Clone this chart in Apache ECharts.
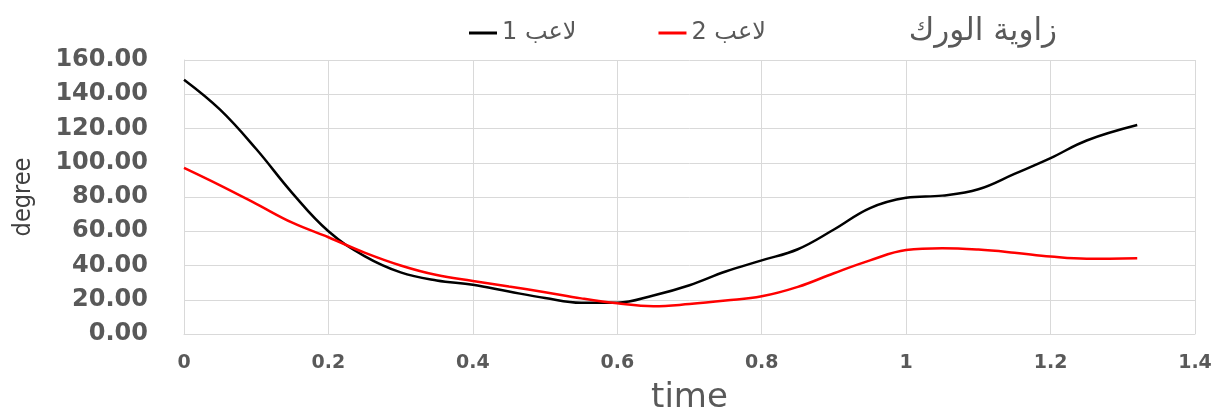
<!DOCTYPE html>
<html>
<head>
<meta charset="utf-8">
<script src="https://cdn.jsdelivr.net/npm/echarts@6.0.0/dist/echarts.min.js"></script>
<style>
  html, body { margin: 0; padding: 0; background: #fff; }
  #chart { width: 1220px; height: 410px; }
</style>
</head>
<body>
<div id="chart"></div>
<script>
// time (s) sampled along the curves
const times = [0, 0.05, 0.1, 0.15, 0.2, 0.25, 0.3, 0.35, 0.4, 0.45, 0.5, 0.55, 0.6, 0.65,
  0.7, 0.75, 0.8, 0.85, 0.9, 0.95, 1.0, 1.05, 1.1, 1.15, 1.2, 1.25, 1.32];

// hip angle (degree)
const player1 = [148.5, 131, 108, 82.3, 60, 45.5, 36, 31.3, 28.8, 24.8, 21, 18.2, 18.3, 22.5,
  28.5, 36.5, 43, 49.5, 61, 73.5, 79.5, 80.8, 84.5, 93.5, 102.7, 113, 122];
const player2 = [97, 86.8, 76, 65, 56.5, 47.5, 40, 34.4, 31, 27.7, 24.4, 20.8, 17.9, 16.2,
  17.5, 19.5, 22, 27.5, 35.5, 43, 49, 50.1, 49.3, 47.5, 45.3, 44, 44.3];

const seriesNames = ["لاعب 1", "لاعب 2"];
const titleText = "زاوية الورك";
const xName = "time";
const yName = "degree";

const grey = "#595959";
const gridColor = "#d9d9d9";

const toPairs = (ys) => times.map((t, i) => [t, ys[i]]);

const chart = echarts.init(document.getElementById("chart"));

chart.setOption({
  animation: false,
  backgroundColor: "#fff",
  title: {
    text: titleText,
    right: 158,
    top: 11,
    textStyle: {
      color: grey,
      fontFamily: "DejaVu Sans",
      fontSize: 31,
      fontWeight: "normal",
    },
  },
  legend: {
    left: 464,
    top: 16,
    itemGap: 82,
    itemWidth: 28,
    itemHeight: 3,
    icon: "rect",
    textStyle: {
      color: grey,
      fontFamily: "DejaVu Sans",
      fontSize: 24,
    },
    data: seriesNames,
  },
  grid: {
    left: 184,
    right: 25,
    top: 60,
    bottom: 76,
    containLabel: false,
    outerBoundsMode: "none",
  },
  xAxis: {
    type: "value",
    min: 0,
    max: 1.4,
    interval: 0.2,
    name: xName,
    nameLocation: "middle",
    nameGap: 47,
    nameTextStyle: {
      color: grey,
      fontFamily: "DejaVu Sans",
      fontSize: 34,
    },
    axisLine: { show: true, lineStyle: { color: gridColor, width: 1 } },
    axisTick: { show: false },
    axisLabel: {
      color: grey,
      fontFamily: "DejaVu Sans",
      fontWeight: "bold",
      fontSize: 19,
      margin: 20,
      formatter: (v) => String(Math.round(v * 10) / 10),
    },
    splitLine: { show: true, lineStyle: { color: gridColor, width: 1 } },
  },
  yAxis: {
    type: "value",
    min: 0,
    max: 160,
    interval: 20,
    name: yName,
    nameLocation: "middle",
    nameGap: 148,
    nameRotate: 90,
    nameTextStyle: {
      color: "#404040",
      fontFamily: "DejaVu Sans Condensed",
      fontSize: 25,
    },
    axisLine: { show: true, lineStyle: { color: gridColor, width: 1 } },
    axisTick: { show: false },
    axisLabel: {
      color: grey,
      fontFamily: "DejaVu Sans",
      fontWeight: "bold",
      fontSize: 24,
      margin: 36,
      formatter: (v) => v.toFixed(2),
    },
    splitLine: { show: true, lineStyle: { color: gridColor, width: 1 } },
  },
  series: [
    {
      name: seriesNames[0],
      type: "line",
      data: toPairs(player1),
      smooth: 0.4,
      symbol: "none",
      itemStyle: { color: "#000000" },
      lineStyle: { color: "#000000", width: 2.5 },
    },
    {
      name: seriesNames[1],
      type: "line",
      data: toPairs(player2),
      smooth: 0.4,
      symbol: "none",
      itemStyle: { color: "#ff0000" },
      lineStyle: { color: "#ff0000", width: 2.5 },
    },
  ],
});
</script>
</body>
</html>
